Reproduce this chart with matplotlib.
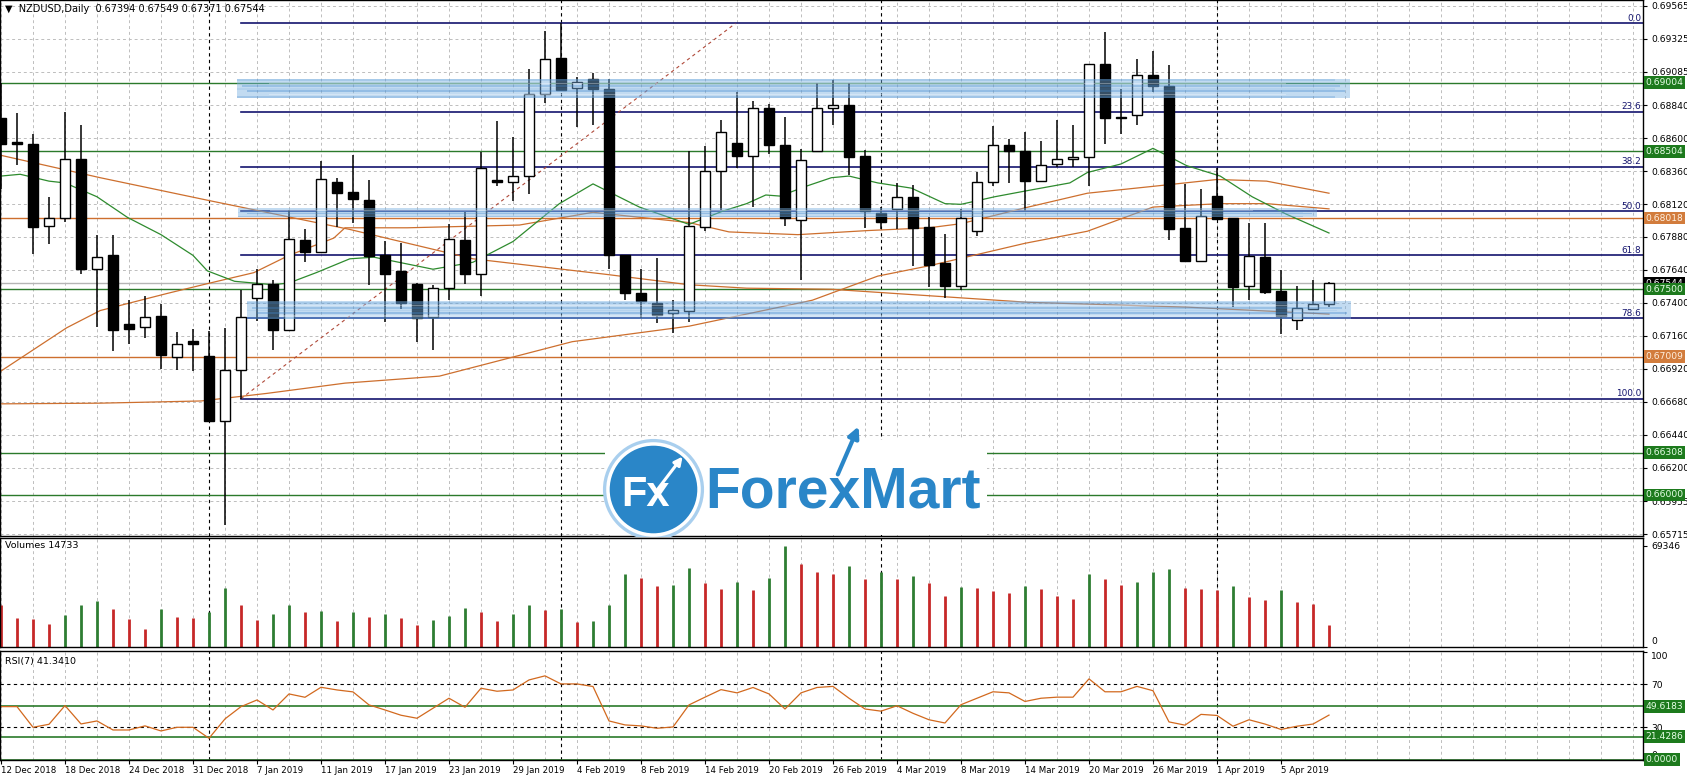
import numpy as np
import matplotlib.pyplot as plt
from matplotlib.patches import Rectangle
from matplotlib.transforms import blended_transform_factory

## Daily candles NZDUSD (12 Dec 2018 .. 10 Apr 2019)
opens = [0.68744, 0.68571, 0.68556, 0.67960, 0.68015, 0.68445, 0.67650, 0.67746, 0.67248, 0.67223,
         0.67306, 0.67009, 0.67125, 0.67012, 0.66539, 0.66911, 0.67437, 0.67537, 0.67200, 0.67859,
         0.67771, 0.68282, 0.68211, 0.68153, 0.67746, 0.67633, 0.67540, 0.67298, 0.67507, 0.67859,
         0.67608, 0.68292, 0.68282, 0.68324, 0.68920, 0.69184, 0.68966, 0.69034, 0.68958, 0.67746,
         0.67474, 0.67399, 0.67323, 0.67344, 0.67955, 0.68362, 0.68563, 0.68470, 0.68822, 0.68551,
         0.68005, 0.68505, 0.68822, 0.68840, 0.68468, 0.68053, 0.68085, 0.68173, 0.67952, 0.67688,
         0.67525, 0.67927, 0.68282, 0.68551, 0.68505, 0.68287, 0.68412, 0.68450, 0.68463, 0.69137,
         0.68757, 0.68772, 0.69059, 0.68983, 0.67942, 0.67703, 0.68181, 0.68018, 0.67520, 0.67733,
         0.67487, 0.67273, 0.67356, 0.67394]
highs = [0.69003, 0.68782, 0.68631, 0.68168, 0.68790, 0.68694, 0.67892, 0.67892, 0.67424, 0.67449,
         0.67394, 0.67188, 0.67210, 0.67198, 0.67218, 0.67494, 0.67645, 0.67570, 0.68080, 0.67935,
         0.68433, 0.68312, 0.68475, 0.68294, 0.67852, 0.67834, 0.67545, 0.67532, 0.67972, 0.68060,
         0.68500, 0.68722, 0.68606, 0.69104, 0.69381, 0.69436, 0.69049, 0.69074, 0.69034, 0.67751,
         0.67650, 0.67726, 0.67419, 0.68508, 0.68546, 0.68732, 0.68933, 0.68870, 0.68852, 0.68757,
         0.68521, 0.69003, 0.69024, 0.69003, 0.68513, 0.68098, 0.68274, 0.68262, 0.68023, 0.67902,
         0.68085, 0.68350, 0.68689, 0.68596, 0.68644, 0.68581, 0.68732, 0.68694, 0.69140, 0.69373,
         0.68958, 0.69174, 0.69235, 0.69134, 0.68269, 0.68229, 0.68380, 0.68020, 0.67985, 0.67985,
         0.67640, 0.67525, 0.67570, 0.67549]
lows = [0.68229, 0.68405, 0.67759, 0.67826, 0.67992, 0.67608, 0.67223, 0.67047, 0.67097, 0.67142,
        0.66916, 0.66908, 0.66901, 0.66534, 0.65784, 0.66702, 0.67268, 0.67059, 0.67198, 0.67696,
        0.67768, 0.67955, 0.67985, 0.67532, 0.67261, 0.67356, 0.67117, 0.67054, 0.67424, 0.67540,
        0.67449, 0.68249, 0.68141, 0.68194, 0.68858, 0.68941, 0.68682, 0.68697, 0.67645, 0.67424,
        0.67293, 0.67255, 0.67180, 0.67263, 0.67922, 0.68078, 0.68380, 0.68098, 0.68488, 0.67960,
        0.67565, 0.68502, 0.68697, 0.68329, 0.67942, 0.67935, 0.67935, 0.67665, 0.67515, 0.67439,
        0.67494, 0.67884, 0.68249, 0.68274, 0.68068, 0.68279, 0.68387, 0.68387, 0.68254, 0.68556,
        0.68631, 0.68697, 0.68933, 0.67859, 0.67701, 0.67700, 0.68005, 0.67369, 0.67419, 0.67462,
        0.67173, 0.67205, 0.67349, 0.67371]
closes = [0.68558, 0.68558, 0.67952, 0.68015, 0.68450, 0.67645, 0.67736, 0.67200, 0.67210, 0.67298,
          0.67017, 0.67100, 0.67097, 0.66539, 0.66911, 0.67298, 0.67537, 0.67200, 0.67867, 0.67771,
          0.68299, 0.68204, 0.68156, 0.67741, 0.67608, 0.67399, 0.67293, 0.67507, 0.67867, 0.67608,
          0.68380, 0.68282, 0.68324, 0.68920, 0.69174, 0.68948, 0.69008, 0.68958, 0.67746, 0.67469,
          0.67411, 0.67313, 0.67351, 0.67960, 0.68362, 0.68644, 0.68470, 0.68822, 0.68551, 0.68015,
          0.68438, 0.68822, 0.68845, 0.68463, 0.68068, 0.67990, 0.68173, 0.67947, 0.67675, 0.67525,
          0.68018, 0.68282, 0.68551, 0.68508, 0.68287, 0.68405, 0.68450, 0.68463, 0.69137, 0.68747,
          0.68747, 0.69059, 0.68983, 0.67935, 0.67708, 0.68035, 0.68010, 0.67515, 0.67738, 0.67482,
          0.67306, 0.67364, 0.67394, 0.67544]

volumes = [28840, 19700, 19000, 15580, 21750, 28840, 31580, 26090, 19220, 12150,
           26090, 20600, 19910, 24030, 40300, 28840, 18540, 22660, 28840, 24030,
           24720, 17850, 24030, 20600, 22660, 19910, 15100, 18540, 21280, 26780,
           24030, 17850, 22660, 28840, 25400, 25700, 17160, 17850, 28840, 50120,
           47380, 41880, 42570, 54240, 43900, 39450, 44620, 38710, 47580, 69346,
           57180, 51270, 49790, 55700, 46840, 51270, 46840, 48320, 43880, 35020,
           40930, 40190, 37970, 37230, 41670, 39450, 35020, 32800, 49790, 46840,
           42410, 44620, 51270, 53490, 40190, 39450, 38710, 41670, 34280, 32060,
           38710, 30580, 29100, 14733]

rsi = [49.2, 49.2, 30.0, 32.8, 50.2, 33.1, 35.9, 27.5, 27.5, 31.3,
       26.6, 30.0, 30.0, 19.8, 37.8, 49.2, 55.4, 46.1, 61.0, 57.9,
       67.2, 64.7, 62.9, 50.8, 46.1, 41.2, 38.4, 47.7, 57.0, 48.6,
       66.3, 63.5, 64.7, 74.0, 77.8, 70.3, 70.3, 67.9, 35.9, 32.2,
       31.3, 29.1, 30.3, 50.8, 58.0, 65.0, 62.0, 67.0, 61.0, 47.0,
       62.0, 67.0, 68.0, 57.0, 47.0, 45.0, 50.0, 43.0, 37.0, 34.0,
       51.0, 57.0, 63.0, 62.0, 54.0, 57.0, 58.0, 58.0, 75.0, 63.0,
       63.0, 68.0, 64.0, 35.0, 32.0, 42.0, 41.0, 31.0, 37.0, 33.0,
       28.0, 31.0, 33.0, 41.341]

## Moving averages (bar, price)
ma_green_bar = [0, 1.2, 3, 4, 6, 7.9, 10, 12, 12.9, 14.6, 17, 18, 19.7, 21.8, 23.3, 27, 29.5, 32,
                34.9, 37, 39.9, 43, 45.1, 46.6, 47.8, 48.7, 50.3, 51.9, 53, 54.8, 56.9, 59, 60,
                62.1, 64.2, 66.8, 67.9, 70, 72, 74.1, 76.2, 78.2, 80.3, 83]
ma_green_val = [0.68324, 0.68337, 0.68287, 0.68274, 0.68173, 0.68023, 0.67897, 0.67746, 0.67633,
                0.67557, 0.67532, 0.67545, 0.67620, 0.67721, 0.67733, 0.67645, 0.67696, 0.67847,
                0.68123, 0.68267, 0.68098, 0.67972, 0.68068, 0.68123, 0.68186, 0.68178, 0.68249,
                0.68312, 0.68324, 0.68274, 0.68236, 0.68123, 0.68118, 0.68173, 0.68219, 0.68274,
                0.68350, 0.68412, 0.68526, 0.68400, 0.68324, 0.68173, 0.68048, 0.67909]
ma_long_bar = [0, 6.2, 12.9, 21.8, 29.5, 37.8, 43, 46.6, 51.9, 64.2, 74.1, 83]
ma_long_val = [0.68475, 0.68312, 0.68148, 0.67935, 0.67721, 0.67608, 0.67532, 0.67507, 0.67499,
               0.67404, 0.67369, 0.67318]
ma_mid_bar = [0, 4.1, 6.2, 10.4, 12.9, 15.8, 18, 20.8, 21.5, 25.4, 32.4, 37, 43, 45.5, 49.8, 54.2,
              58, 60, 64.2, 67.9, 72, 76, 79.1, 83]
ma_mid_val = [0.66903, 0.67218, 0.67344, 0.67469, 0.67540, 0.67620, 0.67746, 0.67872, 0.67947,
              0.67947, 0.67967, 0.68060, 0.67985, 0.67917, 0.67897, 0.67927, 0.67947, 0.67977,
              0.68098, 0.68199, 0.68249, 0.68299, 0.68287, 0.68199]
ma_slow_bar = [0, 6.2, 12.5, 16.6, 21.5, 27.4, 35.7, 43, 50.7, 54.8, 58, 64, 67.9, 72, 76.2, 79.1, 83]
ma_slow_val = [0.66664, 0.66669, 0.66685, 0.66740, 0.66815, 0.66866, 0.67117, 0.67230, 0.67419,
               0.67595, 0.67670, 0.67834, 0.67922, 0.68098, 0.68123, 0.68123, 0.68085]

## Axis texts
date_labels = ['12 Dec 2018', '18 Dec 2018', '24 Dec 2018', '31 Dec 2018', '7 Jan 2019',
               '11 Jan 2019', '17 Jan 2019', '23 Jan 2019', '29 Jan 2019', '4 Feb 2019',
               '8 Feb 2019', '14 Feb 2019', '20 Feb 2019', '26 Feb 2019', '4 Mar 2019',
               '8 Mar 2019', '14 Mar 2019', '20 Mar 2019', '26 Mar 2019', '1 Apr 2019', '5 Apr 2019']
date_bars = list(range(0, 84, 4))
separator_bars = [13, 35, 55, 76]
price_ticks = [0.69565, 0.69325, 0.69085, 0.68840, 0.68600, 0.68360, 0.68120, 0.67880, 0.67640,
               0.67400, 0.67160, 0.66920, 0.66680, 0.66440, 0.66200, 0.65955, 0.65715]

green_levels = [0.69004, 0.68504, 0.67500, 0.66308, 0.66000]
orange_levels = [0.68018, 0.67009]
bid_price = 0.67544

fib_names = ['0.0', '23.6', '38.2', '50.0', '61.8', '78.6', '100.0']
fib_ratios = [0.0, 0.236, 0.382, 0.5, 0.618, 0.786, 1.0]
fib_high, fib_low = 0.69436, 0.66702
fib_start, fib_anchor2 = 15, 45.9

## blue marker zones: (bar from, bar to, price low, price high)
zone_x0 = [14.75, 14.8, 15.4]
zone_x1 = [84.3, 82.25, 84.4]
zone_lo = [0.68895, 0.68028, 0.67281]
zone_hi = [0.69034, 0.68090, 0.67414]

GREEN = '#2b7a2b'
ORANGE = '#cd6f2e'
NAVY = '#14146e'
GRID = '#bdbdbd'

W, H = 1687, 780
fig = plt.figure(figsize=(W / 100, H / 100), dpi=100)


def px_axes(left, top, right, bottom):
    return fig.add_axes([left / W, 1 - bottom / H, (right - left) / W, (bottom - top) / H])


ax = px_axes(0, 0, 1643, 536)
axv = px_axes(0, 538, 1643, 647)
axr = px_axes(0, 651, 1643, 760)

x = np.arange(len(opens))
xmin, xmax = -1 / 16, 1642 / 16
grid_x = np.arange(0, 103, 2)

for a in (ax, axv, axr):
    a.set_xlim(xmin, xmax)
    for g in grid_x:
        a.axvline(g, color=GRID, lw=0.7, dashes=(3, 3), zorder=0.5)
    for s in separator_bars:
        a.axvline(s, color='black', lw=0.8, dashes=(3, 3), zorder=0.6)
    for sp in a.spines.values():
        sp.set_color('black')
        sp.set_linewidth(1)
    a.yaxis.tick_right()
    a.tick_params(axis='y', direction='out', length=3, pad=3, labelsize=6.6, width=0.8)
    a.tick_params(axis='x', direction='out', length=3, width=0.8)

## ---------------- main price panel ----------------
ax.set_ylim(0.65701, 0.69607)
for p in price_ticks:
    ax.axhline(p, color=GRID, lw=0.7, dashes=(3, 3), zorder=0.5)
ax.set_yticks(price_ticks)
ax.set_yticklabels(['%.5f' % p for p in price_ticks])
ax.set_xticks([])

trans = blended_transform_factory(ax.transAxes, ax.transData)

for p in green_levels:
    ax.axhline(p, color=GREEN, lw=1, zorder=1)
for p in orange_levels:
    ax.axhline(p, color=ORANGE, lw=1, zorder=1)
ax.axhline(bid_price, color='#b5b5b5', lw=1, zorder=1)

# fibonacci retracement
for name, r in zip(fib_names, fib_ratios):
    lvl = fib_high - r * (fib_high - fib_low)
    ax.plot([fib_start, xmax], [lvl, lvl], color=NAVY, lw=1.2, zorder=1.2)
    ax.text(1640 / 16, lvl + 0.00004, name, ha='right', va='bottom', fontsize=6.4, color=NAVY, zorder=5)
ax.plot([fib_start, fib_anchor2], [fib_low, fib_high], color='#b04a3a', lw=0.8, dashes=(3, 3), zorder=1.2)

# moving averages
ax.plot(ma_long_bar, ma_long_val, color=ORANGE, lw=0.9, zorder=1.5)
ax.plot(ma_mid_bar, ma_mid_val, color=ORANGE, lw=0.9, zorder=1.5)
ax.plot(ma_slow_bar, ma_slow_val, color=ORANGE, lw=0.9, zorder=1.5)
ax.plot(ma_green_bar, ma_green_val, color='#2e8b2e', lw=0.9, zorder=1.5)

# candles
o = np.array(opens)
c = np.array(closes)
up = c >= o
ax.vlines(x, lows, highs, color='black', lw=1.1, zorder=2)
body_lo = np.minimum(o, c)
body_h = np.maximum(np.abs(c - o), 0.00004)
ax.bar(x[up], body_h[up], bottom=body_lo[up], width=0.66, facecolor='white', edgecolor='black', lw=1, zorder=2.1)
ax.bar(x[~up], body_h[~up], bottom=body_lo[~up], width=0.66, facecolor='black', edgecolor='black', lw=1, zorder=2.1)

# hand drawn blue zones (marker look: light base + streaks)
streak_alpha = [0.25, 0.0, 0.35, 0.1, 0.3, 0.0, 0.2]
for x0, x1, lo, hi in zip(zone_x0, zone_x1, zone_lo, zone_hi):
    ax.add_patch(Rectangle((x0, lo), x1 - x0, hi - lo, facecolor='#78b0e2', alpha=0.45, lw=0, zorder=3))
    band = (hi - lo) / len(streak_alpha)
    for k, al in enumerate(streak_alpha):
        if al > 0:
            ax.add_patch(Rectangle((x0 + 0.3 * (k % 3), lo + k * band), x1 - x0 - 0.9, band * 0.7,
                                   facecolor='#3f86cc', alpha=al, lw=0, zorder=3))
        else:
            ax.add_patch(Rectangle((x0 + 2, lo + k * band), x1 - x0 - 6, band * 0.5,
                                   facecolor='white', alpha=0.3, lw=0, zorder=3))

# price labels on the right
ax.text(1.0015, bid_price, '%.5f' % bid_price, transform=trans, fontsize=6.6, color='white',
        va='center', ha='left', clip_on=False, zorder=6,
        bbox=dict(boxstyle='square,pad=0.2', fc='black', ec='none'))
for p in green_levels:
    ax.text(1.0015, p, '%.5f' % p, transform=trans, fontsize=6.6, color='#e8ffe8', va='center',
            ha='left', clip_on=False, zorder=7,
            bbox=dict(boxstyle='square,pad=0.2', fc='#1d7a1d', ec='none'))
for p in orange_levels:
    ax.text(1.0015, p, '%.5f' % p, transform=trans, fontsize=6.6, color='#fff0e0', va='center',
            ha='left', clip_on=False, zorder=7,
            bbox=dict(boxstyle='square,pad=0.2', fc='#d27c3c', ec='none'))

# ForexMart logo
ax.add_patch(Rectangle((37.75, 0.65705), 61.6 - 37.75, 0.66400 - 0.65705, facecolor='white', lw=0, zorder=4))
ax.scatter([40.75], [0.66040], s=5300, color='#a9cfee', zorder=4.1, lw=0)
ax.scatter([40.75], [0.66040], s=4300, color='#2a86c8', edgecolor='white', lw=2.5, zorder=4.2)
ax.text(40.3, 0.66000, 'Fx', fontsize=30, color='white', fontweight='bold', family='Liberation Sans',
        ha='center', va='center', zorder=4.3)
ax.annotate('', xy=(42.6, 0.66280), xytext=(40.9, 0.66020), zorder=4.3,
            arrowprops=dict(arrowstyle='-|>', color='white', lw=2.2, mutation_scale=12,
                            shrinkA=0, shrinkB=0))
ax.text(44.0, 0.66020, 'ForexMart', fontsize=41, color='#2a86c8', fontweight='bold',
        family='Liberation Sans', ha='left', va='center', zorder=4.3)
ax.annotate('', xy=(53.6, 0.66500), xytext=(52.3, 0.66150), zorder=4.3,
            arrowprops=dict(arrowstyle='-|>', color='#2a86c8', lw=3, mutation_scale=16,
                            shrinkA=0, shrinkB=0))

fig.text(5 / W, 1 - 9 / H, '\u25BC  NZDUSD,Daily  0.67394 0.67549 0.67371 0.67544', fontsize=7,
         va='center', ha='left')

## ---------------- volumes panel ----------------
vol_colors = ['#c62828']
for i in range(1, len(volumes)):
    vol_colors.append('#2e7d32' if volumes[i] > volumes[i - 1] else '#c62828')
axv.vlines(x, 0, volumes, colors=vol_colors, lw=2, zorder=2)
axv.set_ylim(-345, 74865)
axv.set_xticks([])
axv.set_yticks([69346, 0])
axv.set_yticklabels(['69346', '0'])
axv.get_yticklabels()[1].set_va('bottom')
axv.text(0.003, 0.93, 'Volumes 14733', transform=axv.transAxes, fontsize=6.8, va='center', ha='left')

## ---------------- RSI panel ----------------
axr.set_ylim(-0.4, 100.9)
axr.axhline(70, color='black', lw=0.8, dashes=(3, 3), zorder=1)
axr.axhline(30, color='black', lw=0.8, dashes=(3, 3), zorder=1)
rsi_marks = [49.6183, 21.4286, 0.0]
for r in rsi_marks:
    axr.axhline(r, color=GREEN, lw=1.2, zorder=1)
axr.plot(x, rsi, color='#d2691e', lw=0.9, zorder=2)
axr.set_yticks([100, 70, 30, 0])
axr.set_yticklabels(['100', '70', '30', '0'])
rlabels = axr.get_yticklabels()
rlabels[0].set_va('top')
rlabels[3].set_va('bottom')
rtrans = blended_transform_factory(axr.transAxes, axr.transData)
for r in rsi_marks:
    axr.text(1.0015, r, '%.4f' % r, transform=rtrans, fontsize=6.6, color='#e8ffe8', va='center',
             ha='left', clip_on=False, zorder=7,
             bbox=dict(boxstyle='square,pad=0.2', fc='#1d7a1d', ec='none'))
axr.text(0.003, 0.9, 'RSI(7) 41.3410', transform=axr.transAxes, fontsize=6.8, va='center', ha='left')

axr.set_xticks(date_bars)
axr.set_xticklabels(date_labels, fontsize=6.2, ha='left')
axr.tick_params(axis='x', pad=1)

fig.savefig('out.png', dpi=100, facecolor='white')
